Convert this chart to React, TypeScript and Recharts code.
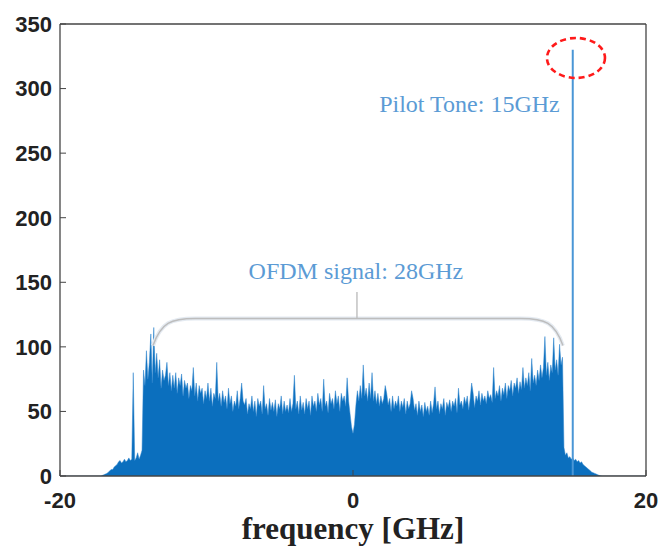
import {
  ComposedChart,
  Area,
  XAxis,
  YAxis,
  ReferenceLine,
  ReferenceDot,
  ReferenceArea,
  Label,
} from 'recharts'

// spectrum magnitude, sampled every 0.1 GHz
const FREQ_STEP = 0.1

// lower skirt: -17.2 .. -14.4 GHz
const SKIRT_LOW_START = -17.2
const SKIRT_LOW = [
  0, 0.5, 1, 1.5, 2, 3, 4, 5, 5, 7,
  8, 9, 11, 12, 10, 11, 13, 11, 12, 14,
  12, 13, 80, 12, 14, 18, 13, 16, 20,
]

// OFDM band: -14.3 .. 14.3 GHz
const BAND_START = -14.3
const BAND = [
  82, 70, 97, 75, 88, 110, 72, 115, 80, 95,
  76, 90, 68, 82, 74, 78, 88, 70, 80, 66,
  78, 68, 80, 64, 76, 70, 79, 62, 74, 68,
  72, 60, 70, 66, 84, 62, 72, 58, 70, 64,
  68, 56, 66, 60, 72, 58, 68, 54, 64, 60,
  88, 58, 64, 54, 66, 57, 62, 52, 68, 56,
  62, 50, 58, 54, 66, 52, 60, 72, 58, 55,
  60, 48, 56, 52, 62, 50, 58, 46, 60, 54,
  58, 48, 70, 52, 56, 47, 60, 51, 57, 50,
  59, 46, 56, 52, 62, 48, 58, 50, 55, 49,
  60, 50, 56, 78, 52, 58, 48, 62, 51, 57,
  48, 60, 52, 58, 47, 62, 54, 58, 50, 64,
  55, 60, 50, 75, 54, 58, 49, 64, 56, 60,
  52, 66, 56, 62, 50, 64, 58, 62, 54, 76,
  58, 48, 38, 33, 40, 55, 66, 58, 70, 60,
  86, 62, 68, 58, 72, 60, 80, 58, 66, 56,
  64, 54, 62, 56, 60, 70, 64, 55, 60, 50,
  62, 52, 58, 54, 62, 50, 58, 53, 60, 48,
  58, 52, 56, 66, 60, 51, 56, 47, 58, 50,
  55, 46, 57, 50, 54, 47, 58, 49, 56, 69,
  52, 58, 48, 56, 52, 60, 47, 57, 53, 59,
  50, 58, 54, 60, 49, 68, 55, 58, 52, 61,
  56, 62, 51, 60, 72, 64, 53, 62, 58, 66,
  55, 64, 58, 62, 56, 66, 60, 63, 57, 84,
  60, 66, 62, 70, 58, 68, 63, 72, 60, 70,
  66, 74, 62, 72, 68, 76, 64, 73, 67, 84,
  68, 76, 70, 80, 66, 91, 72, 78, 70, 82,
  74, 86, 76, 84, 108, 78, 88, 74, 86, 80,
  107, 82, 90, 78, 102, 86, 92,
]

// upper skirt: 14.4 .. 17.0 GHz
const SKIRT_HIGH_START = 14.4
const SKIRT_HIGH = [
  22, 16, 18, 14, 15, 13, 14, 12, 13, 11,
  12, 10, 11, 9, 8, 7, 6, 5, 4, 3,
  2.5, 2, 1.5, 1, 0.5, 0.2, 0,
]

const X_TICKS = [-20, 0, 20]
const Y_TICKS = [0, 50, 100, 150, 200, 250, 300, 350]

const PILOT_FREQ = 15
const PILOT_PEAK = 330

const SPECTRUM_BLUE = '#0b6fbe'
const NOTE_BLUE = '#5b9bd5'
const FRAME = '#444'

function toPoints(start: number, values: number[]) {
  return values.map((amp, i) => ({
    freq: Math.round((start + i * FREQ_STEP) * 10) / 10,
    amp,
  }))
}

const data = [
  { freq: -20, amp: 0 },
  ...toPoints(SKIRT_LOW_START, SKIRT_LOW),
  ...toPoints(BAND_START, BAND),
  ...toPoints(SKIRT_HIGH_START, SKIRT_HIGH),
  { freq: 20, amp: 0 },
]

const tickFont = {
  fontSize: 22,
  fontWeight: 'bold' as const,
  fill: '#222',
  fontFamily: '"Liberation Sans", Arial, sans-serif',
}

const noteFont = {
  fontSize: 24,
  fill: NOTE_BLUE,
  fontFamily: '"Liberation Serif", "Times New Roman", serif',
}

function Brace(props: any) {
  const { x, y, width, height } = props
  const b = y + height
  const r = x + width
  const d = `M ${x} ${b} C ${x + 8} ${y + 4} ${x + 18} ${y} ${x + 42} ${y} L ${r - 42} ${y} C ${r - 18} ${y} ${r - 8} ${y + 4} ${r} ${b}`
  return (
    <g>
      <path d={d} fill="none" stroke="#e4eaf1" strokeWidth={4} />
      <path d={d} fill="none" stroke="#bdbdbd" strokeWidth={1.4} />
    </g>
  )
}

export default function App() {
  return (
    <div style={{ position: 'absolute', left: 0, top: 0, background: '#fff' }}>
      <ComposedChart
        width={660}
        height={550}
        data={data}
        margin={{ top: 23, right: 13, bottom: 0, left: 0 }}
      >
        <XAxis
          xAxisId="b"
          dataKey="freq"
          type="number"
          domain={[-20, 20]}
          ticks={X_TICKS}
          allowDataOverflow
          height={74}
          tickSize={-6}
          tickMargin={22}
          tick={tickFont}
          axisLine={{ stroke: FRAME, strokeWidth: 1.3 }}
          tickLine={{ stroke: FRAME }}
        >
          <Label
            value="frequency [GHz]"
            position="insideBottom"
            offset={11}
            style={{
              fontSize: 31,
              fontWeight: 'bold',
              fill: '#222',
              fontFamily: '"Liberation Serif", "Times New Roman", serif',
            }}
          />
        </XAxis>
        <XAxis
          xAxisId="t"
          orientation="top"
          type="number"
          domain={[-20, 20]}
          ticks={X_TICKS}
          allowDataOverflow
          height={1}
          tickSize={-6}
          tick={false}
          axisLine={{ stroke: FRAME, strokeWidth: 1.3 }}
          tickLine={{ stroke: FRAME }}
        />
        <YAxis
          yAxisId="l"
          type="number"
          domain={[0, 350]}
          ticks={Y_TICKS}
          allowDataOverflow
          width={60}
          tickSize={-6}
          tickMargin={14}
          tick={tickFont}
          axisLine={{ stroke: FRAME, strokeWidth: 1.3 }}
          tickLine={{ stroke: FRAME }}
        />
        <YAxis
          yAxisId="r"
          orientation="right"
          type="number"
          domain={[0, 350]}
          ticks={Y_TICKS}
          allowDataOverflow
          width={1}
          tickSize={-6}
          tick={false}
          axisLine={{ stroke: FRAME, strokeWidth: 1.3 }}
          tickLine={{ stroke: FRAME }}
        />

        <Area
          xAxisId="b"
          yAxisId="l"
          type="linear"
          dataKey="amp"
          stroke="#2a82cc"
          strokeWidth={0.5}
          fill={SPECTRUM_BLUE}
          fillOpacity={1}
          dot={false}
          activeDot={false}
          isAnimationActive={false}
        />

        <ReferenceLine
          xAxisId="b"
          yAxisId="l"
          segment={[
            { x: PILOT_FREQ, y: 0 },
            { x: PILOT_FREQ, y: PILOT_PEAK },
          ]}
          stroke="#4a96d6"
          strokeWidth={2}
        />

        <ReferenceArea
          xAxisId="b"
          yAxisId="l"
          x1={-13.65}
          x2={14.33}
          y1={101}
          y2={122}
          shape={<Brace />}
        />
        <ReferenceLine
          xAxisId="b"
          yAxisId="l"
          segment={[
            { x: 0.27, y: 122 },
            { x: 0.27, y: 142.5 },
          ]}
          stroke="#bdbdbd"
          strokeWidth={1.4}
        />

        <ReferenceDot
          xAxisId="b"
          yAxisId="l"
          x={15.22}
          y={323.7}
          r={0}
          shape={(p: any) => (
            <ellipse
              cx={p.cx}
              cy={p.cy}
              rx={29}
              ry={20}
              fill="none"
              stroke="#ff1a1a"
              strokeWidth={2.6}
              strokeDasharray="6 4"
            />
          )}
        />
        <ReferenceDot
          xAxisId="b"
          yAxisId="l"
          x={7.95}
          y={282}
          r={0}
          shape={(p: any) => (
            <text x={p.cx} y={p.cy} textAnchor="middle" {...noteFont}>
              Pilot Tone: 15GHz
            </text>
          )}
        />
        <ReferenceDot
          xAxisId="b"
          yAxisId="l"
          x={0.2}
          y={152.5}
          r={0}
          shape={(p: any) => (
            <text x={p.cx} y={p.cy} textAnchor="middle" {...noteFont}>
              OFDM signal: 28GHz
            </text>
          )}
        />
      </ComposedChart>
    </div>
  )
}
